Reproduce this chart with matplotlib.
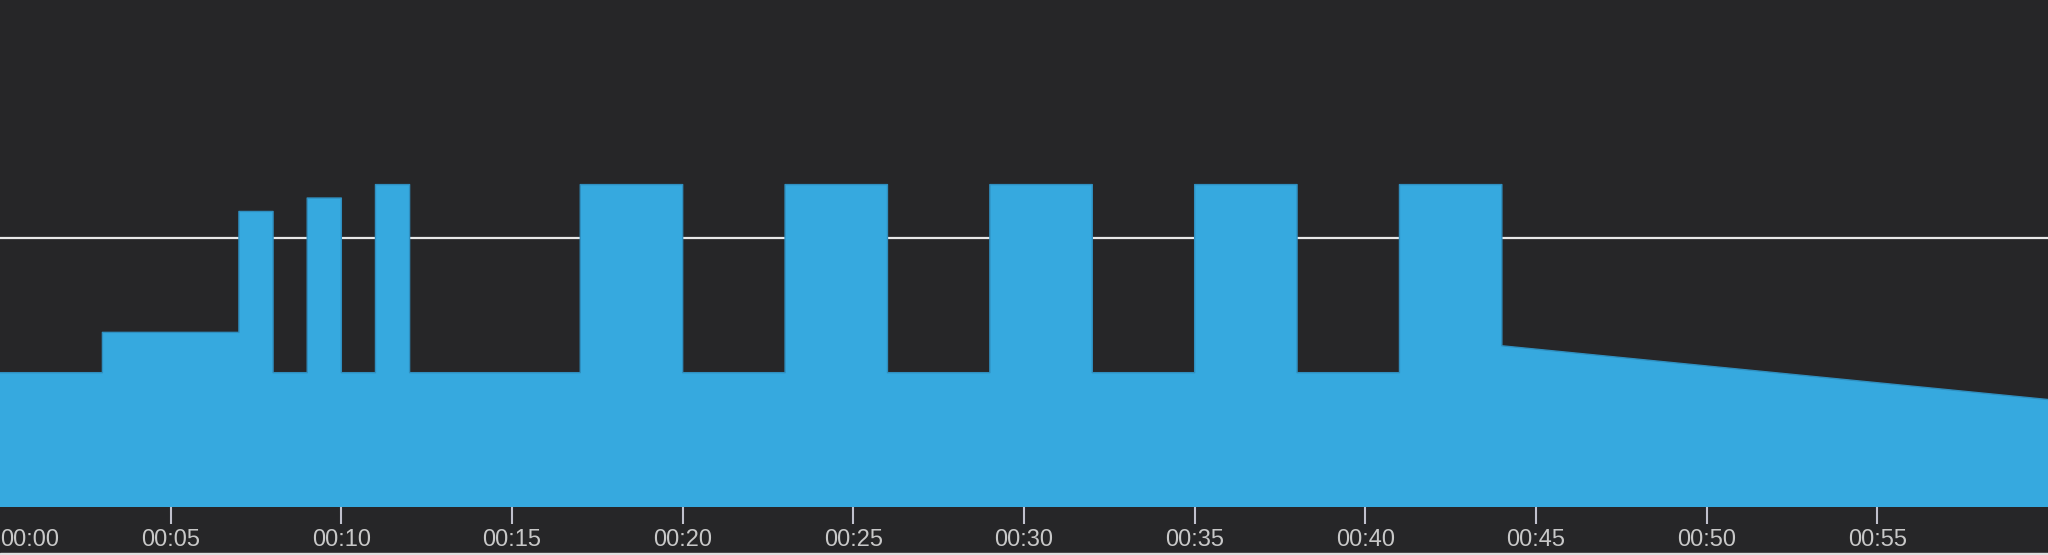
import matplotlib.pyplot as plt

# workout segments: start minute, power at start / end of segment (% FTP)
seg_times = [0, 3, 7, 8, 9, 10, 11, 12, 17, 20, 23, 26, 29, 32, 35, 38, 41, 44, 60]
power_start = [50, 65, 110, 50, 115, 50, 120, 50, 120, 50, 120, 50, 120, 50, 120, 50, 120, 60]
power_end = [50, 65, 110, 50, 115, 50, 120, 50, 120, 50, 120, 50, 120, 50, 120, 50, 120, 40]
ftp = 100
tick_minutes = list(range(0, 60, 5))
tick_labels = [f"00:{m:02d}" for m in tick_minutes]

bg = "#262628"
blue = "#36a9df"

xs, ys = [], []
for i in range(len(power_start)):
    xs += [seg_times[i], seg_times[i + 1]]
    ys += [power_start[i], power_end[i]]

fig = plt.figure(figsize=(20.48, 5.55), dpi=100, facecolor=bg)
ax = fig.add_axes([0, 48 / 555, 1, 507 / 555])
ax.set_facecolor(bg)
ax.fill_between(xs, 0, ys, color=blue, lw=0, zorder=1)
ax.plot(xs, ys, color="#2f8fc0", lw=1, zorder=2)
ax.axhline(ftp, color="#e8e8e8", lw=1.6, zorder=0)

ax.set_xlim(0, 60)
ax.set_ylim(0, 188.7)
ax.set_yticks([])
for s in ax.spines.values():
    s.set_visible(False)
ax.set_xticks(tick_minutes)
ax.set_xticklabels(tick_labels, fontsize=17, color="#c8c8c8", family="Liberation Sans")
ax.tick_params(axis="x", length=12, width=1.5, color="#c0c0cc", pad=4)
ax.get_xticklabels()[0].set_horizontalalignment("left")
ax.xaxis.get_major_ticks()[0].tick1line.set_visible(False)

# thin light strip at the bottom edge
fig.patches.append(plt.Rectangle((0, 0), 1, 2 / 555, transform=fig.transFigure,
                                 color="#e0e0e0", zorder=0))

fig.savefig("out.png", dpi=100, facecolor=bg)
